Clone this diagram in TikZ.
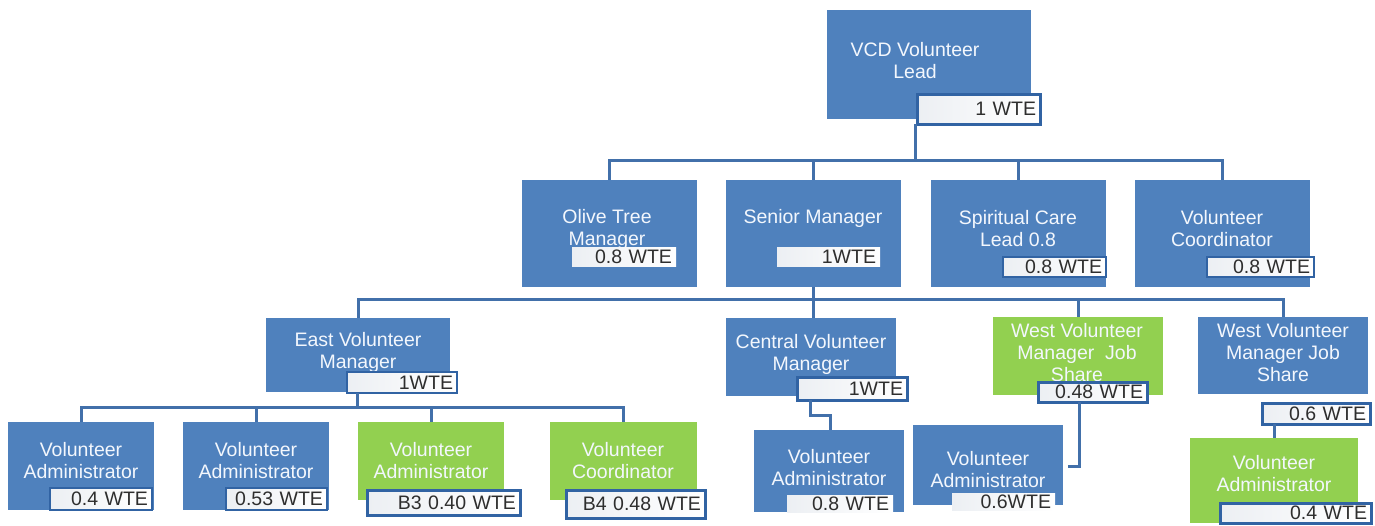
\documentclass[tikz,border=0pt]{standalone}
\usepackage{fontspec}
\setmainfont{Liberation Sans}
\definecolor{boxblue}{HTML}{4F81BD}
\definecolor{boxgreen}{HTML}{92D050}
\definecolor{linkblue}{HTML}{4270AA}
\definecolor{wteedge}{HTML}{3163A3}
\definecolor{wteshade}{HTML}{ECEFF3}
\definecolor{wtetext}{HTML}{2E2E2E}
\definecolor{lbltext}{HTML}{F3F7FD}
\newcommand\orgfont{\fontsize{19.5}{22}\selectfont}
\newcommand\orgbox[6]{%
  \node[#1, minimum width={(#5-#3)*1pt}, minimum height={(#6-#4)*1pt}] (#2) at ({(#3+#5)/2},{(#4+#6)/2}) {};}
\newcommand\wtebox[7]{%
  \node[wte, #1, minimum width={(#5-#3)*1pt}, minimum height={(#6-#4)*1pt}, text width={(#5-#3-8)*1pt}] (#2) at ({(#3+#5)/2},{(#4+#6)/2}) {#7};}
\begin{document}
\begin{tikzpicture}[x=1pt,y=-1pt,
  bluebox/.style={fill=boxblue, draw=none, inner sep=0pt},
  greenbox/.style={fill=boxgreen, draw=none, inner sep=0pt},
  lbl/.style={text=lbltext, align=center, font=\orgfont, inner sep=0pt},
  wte/.style={left color=wteshade, right color=white, align=right, font=\orgfont, text=wtetext, inner xsep=4pt, inner ysep=0pt},
  thickedge/.style={draw=wteedge, line width=3pt},
  thinedge/.style={draw=wteedge, line width=1.3pt},
  noedge/.style={draw=none},
  link/.style={draw=linkblue, line width=3pt}
]
\useasboundingbox (0,0) rectangle (1375,525);

\coordinate (bus1) at (0,160);
\coordinate (bus2) at (0,299);
\coordinate (bus3) at (0,407);

% ---------- top ----------
\orgbox{bluebox}{vcd}{827}{10}{1031}{119}
\node[lbl] (vcd-t) at (915,61) {VCD Volunteer\\Lead};
\wtebox{thickedge}{vcd-w}{917}{94}{1040}{124}{1 WTE}

% ---------- row 2 ----------
\orgbox{bluebox}{olive}{522}{180}{697}{287}
\node[lbl] (olive-t) at (607,229) {Olive Tree\\Manager};
\wtebox{noedge}{olive-w}{572}{247}{676}{266}{0.8 WTE}

\orgbox{bluebox}{senior}{726}{180}{901}{287}
\node[lbl] (senior-t) at (813,218) {Senior Manager};
\wtebox{noedge}{senior-w}{777}{247}{880}{266}{1WTE}

\orgbox{bluebox}{spirit}{931}{180}{1106}{287}
\node[lbl] (spirit-t) at (1018,229) {Spiritual Care\\Lead 0.8};
\wtebox{thinedge}{spirit-w}{1003}{257}{1106}{277}{0.8 WTE}

\orgbox{bluebox}{volc}{1135}{180}{1310}{287}
\node[lbl] (volc-t) at (1222,229) {Volunteer\\Coordinator};
\wtebox{thinedge}{volc-w}{1207}{257}{1314}{277}{0.8 WTE}

% ---------- row 3 ----------
\orgbox{bluebox}{east}{266}{318}{450}{392}
\node[lbl] (east-t) at (358,352) {East Volunteer\\Manager};
\wtebox{thinedge}{east-w}{347}{372}{457}{393}{1WTE}

\orgbox{bluebox}{central}{726}{318}{896}{396}
\node[lbl] (central-t) at (811,354) {Central Volunteer\\Manager};
\wtebox{thickedge}{central-w}{797}{377}{907}{400}{1WTE}

\orgbox{greenbox}{westg}{993}{317}{1163}{395}
\node[lbl] (westg-t) at (1077,353) {West Volunteer\\Manager\ \ Job\\Share};
\wtebox{thickedge}{westg-w}{1038}{382}{1147}{402}{0.48 WTE}

\orgbox{bluebox}{westb}{1198}{317}{1368}{394}
\node[lbl] (westb-t) at (1283,353) {West Volunteer\\Manager Job\\Share};
\wtebox{thickedge}{westb-w}{1262}{403}{1370}{424}{0.6 WTE}

% ---------- row 4 ----------
\orgbox{bluebox}{va1}{8}{422}{154}{510}
\node[lbl] (va1-t) at (81,461) {Volunteer\\Administrator};
\wtebox{thinedge}{va1-w}{50}{488}{152}{510}{0.4 WTE}

\orgbox{bluebox}{va2}{183}{422}{329}{510}
\node[lbl] (va2-t) at (256,461) {Volunteer\\Administrator};
\wtebox{thinedge}{va2-w}{226}{488}{327}{510}{0.53 WTE}

\orgbox{greenbox}{va3}{358}{422}{504}{500}
\node[lbl] (va3-t) at (431,461) {Volunteer\\Administrator};
\wtebox{thickedge}{va3-w}{367}{490}{520}{515}{B3 0.40 WTE}

\orgbox{greenbox}{vc4}{550}{422}{697}{500}
\node[lbl] (vc4-t) at (623,461) {Volunteer\\Coordinator};
\wtebox{thickedge}{vc4-w}{566}{490}{705}{518}{B4 0.48 WTE}

\orgbox{bluebox}{va5}{754}{430}{904}{512}
\node[lbl] (va5-t) at (829,468) {Volunteer\\Administrator};
\wtebox{noedge}{va5-w}{787}{495}{893}{512}{0.8 WTE}

\orgbox{bluebox}{va6}{913}{425}{1063}{505}
\node[lbl] (va6-t) at (988,470) {Volunteer\\Administrator};
\wtebox{noedge}{va6-w}{952}{493}{1055}{510}{0.6WTE}

\orgbox{greenbox}{va7}{1190}{438}{1358}{523}
\node[lbl] (va7-t) at (1274,474) {Volunteer\\Administrator};
\wtebox{thickedge}{va7-w}{1220}{503}{1371}{523}{0.4 WTE}

% ---------- connectors ----------
\coordinate (vcd-drop) at (915,124);
\draw[link] (vcd-drop) -- (vcd-drop |- bus1);
\draw[link] (olive.north) -- (olive.north |- bus1) -- (volc.north |- bus1) -- (volc.north);
\draw[link] (senior.north) -- (senior.north |- bus1);
\draw[link] (spirit.north) -- (spirit.north |- bus1);

\draw[link] (senior.south) -- (senior.south |- bus2);
\draw[link] (east.north) -- (east.north |- bus2) -- (westb.north |- bus2) -- (westb.north);
\coordinate (central-in) at (813,318);
\draw[link] (central-in) -- (central-in |- bus2);
\draw[link] (westg.north) -- (westg.north |- bus2);

\coordinate (east-drop) at (357,393);
\draw[link] (east-drop) -- (east-drop |- bus3);
\draw[link] (va1.north) -- (va1.north |- bus3) -- (vc4.north |- bus3) -- (vc4.north);
\draw[link] (va2.north) -- (va2.north |- bus3);
\draw[link] (va3.north) -- (va3.north |- bus3);

\coordinate (c-out) at (810,400);
\coordinate (c-mid) at (810,415);
\coordinate (c-in) at (830,430);
\draw[link] (c-out) -- (c-mid) -| (c-in);

\coordinate (wg-out) at (1079,402);
\coordinate (wg-end) at (1068,466);
\draw[link] (wg-out) |- (wg-end);

\coordinate (wb-out) at (1274,424);
\coordinate (wb-in) at (1274,438);
\draw[link] (wb-out) -- (wb-in);
\end{tikzpicture}
\end{document}
